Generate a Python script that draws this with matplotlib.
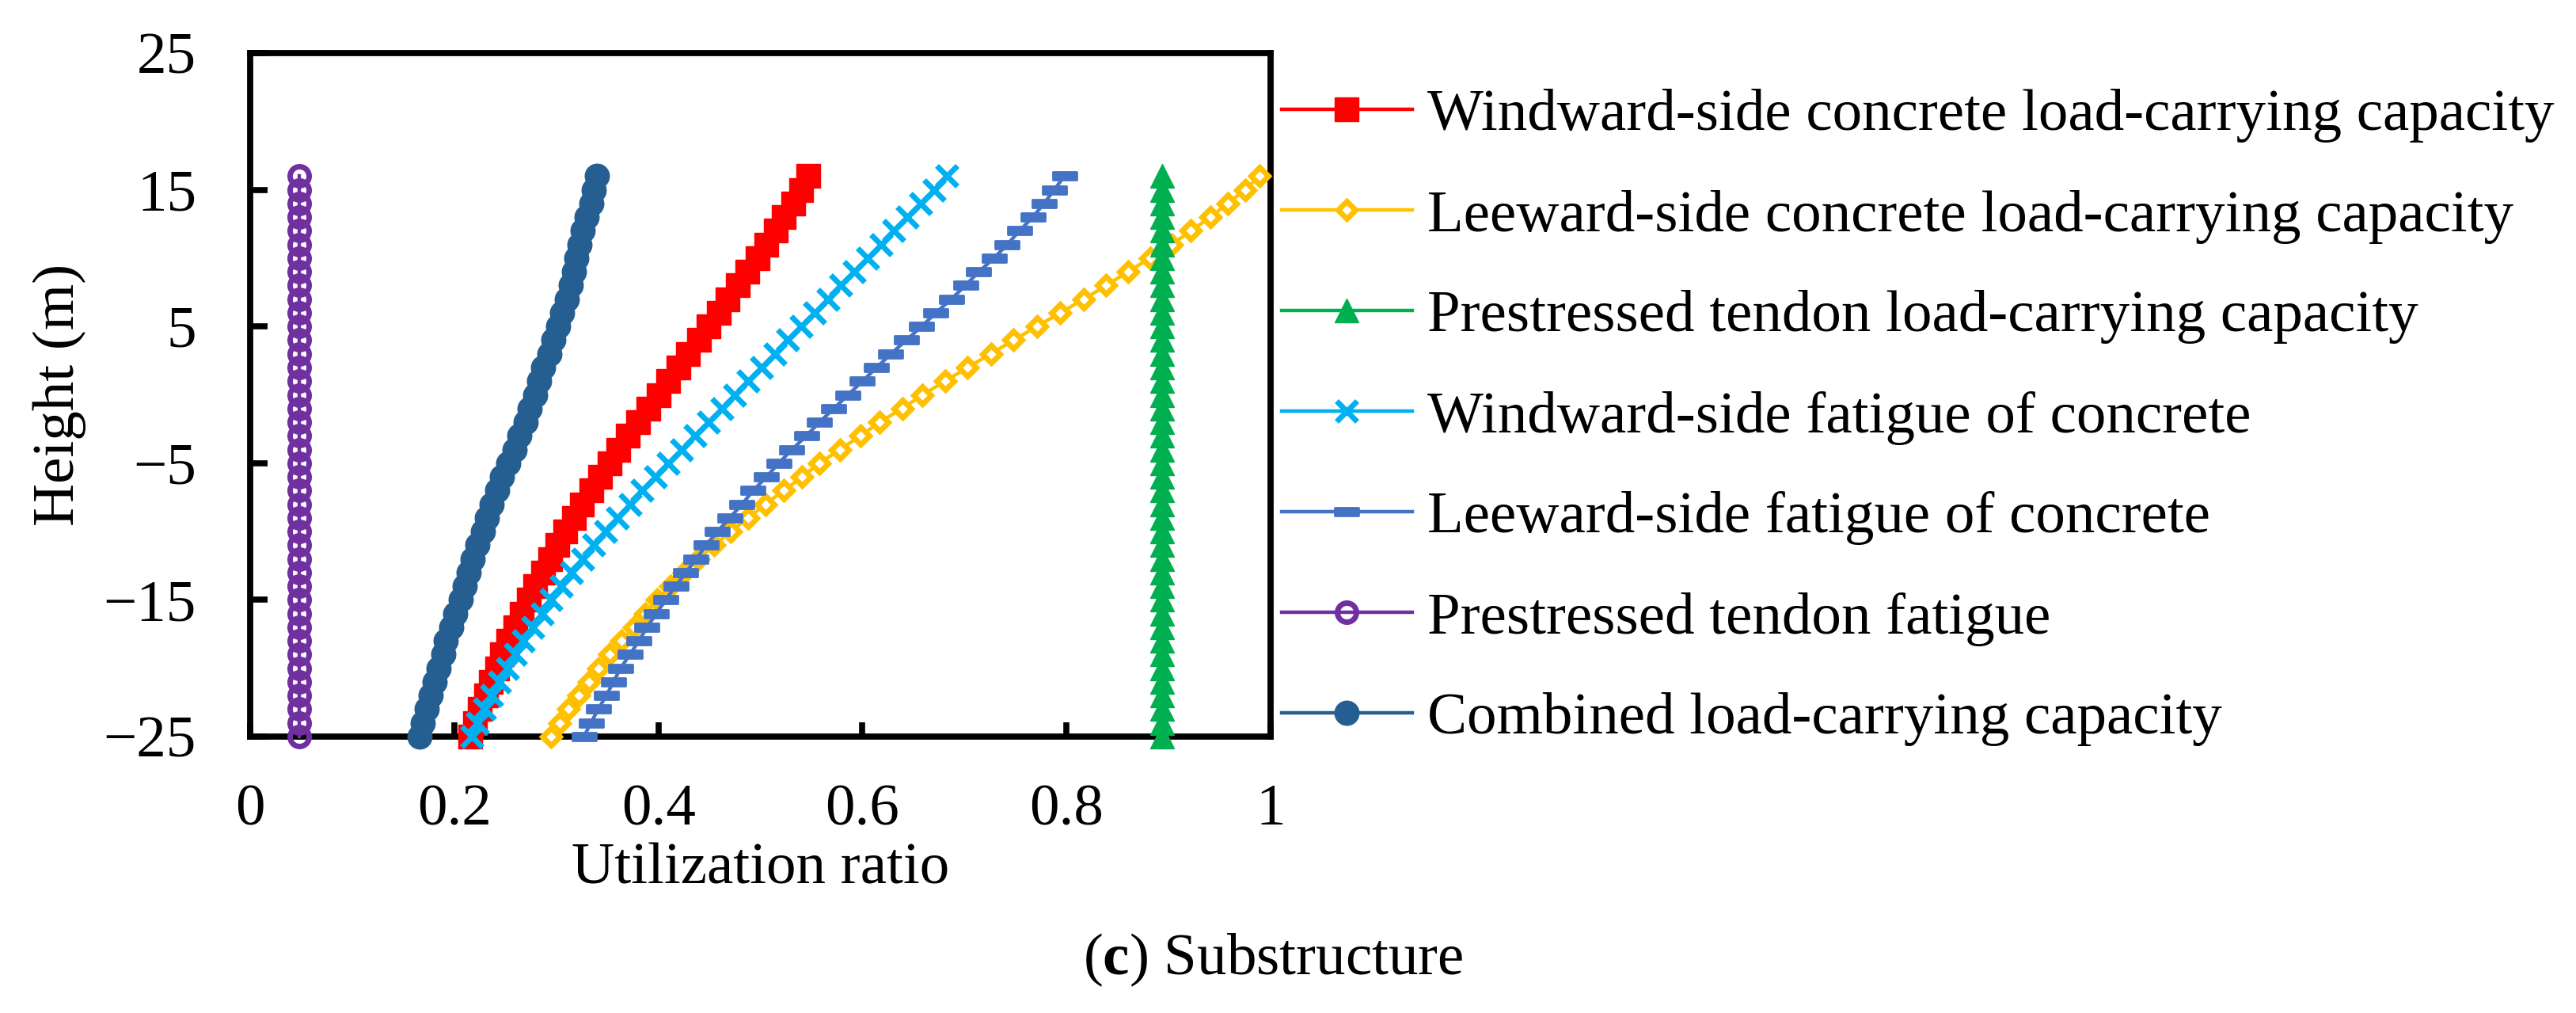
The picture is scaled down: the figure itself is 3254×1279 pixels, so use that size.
import matplotlib
matplotlib.use("Agg")
import matplotlib.pyplot as plt
from matplotlib.path import Path

plt.rcParams['font.family'] = ['Liberation Serif', 'DejaVu Serif']
plt.rcParams['mathtext.fontset'] = 'custom'
plt.rcParams['mathtext.rm'] = 'Liberation Serif'
plt.rcParams['mathtext.bf'] = 'Liberation Serif:bold'

# ---------------- data ----------------
heights = [-25, -24, -23, -22, -21, -20, -19, -18, -17, -16, -15, -14, -13, -12,
           -11, -10, -9, -8, -7, -6, -5, -4, -3, -2, -1, 0, 1, 2, 3, 4, 5, 6, 7,
           8, 9, 10, 11, 12, 13, 14, 15, 16]

windward_concrete = [0.216, 0.220, 0.225, 0.231, 0.236, 0.242, 0.247, 0.253, 0.260, 0.266,
                     0.273, 0.279, 0.287, 0.294, 0.301, 0.309, 0.317, 0.325, 0.334, 0.343,
                     0.352, 0.361, 0.370, 0.380, 0.390, 0.400, 0.410, 0.420, 0.429, 0.440,
                     0.449, 0.459, 0.468, 0.478, 0.487, 0.497, 0.506, 0.515, 0.523, 0.532,
                     0.540, 0.547]

leeward_concrete = [0.295, 0.303, 0.312, 0.322, 0.332, 0.341, 0.352, 0.364, 0.376, 0.387,
                    0.399, 0.412, 0.425, 0.439, 0.455, 0.471, 0.488, 0.505, 0.523, 0.541,
                    0.558, 0.578, 0.598, 0.617, 0.639, 0.659, 0.681, 0.703, 0.726, 0.748,
                    0.771, 0.794, 0.817, 0.839, 0.860, 0.882, 0.903, 0.922, 0.941, 0.958,
                    0.975, 0.989]

tendon_capacity = [0.894, 0.894, 0.894, 0.894, 0.894, 0.894, 0.894, 0.894, 0.894, 0.894,
                   0.894, 0.894, 0.894, 0.894, 0.894, 0.894, 0.894, 0.894, 0.894, 0.894,
                   0.894, 0.894, 0.894, 0.894, 0.894, 0.894, 0.894, 0.894, 0.894, 0.894,
                   0.894, 0.894, 0.894, 0.894, 0.894, 0.894, 0.894, 0.894, 0.894, 0.894,
                   0.894, 0.894]

windward_fatigue = [0.217, 0.223, 0.230, 0.237, 0.244, 0.252, 0.260, 0.268, 0.277, 0.286,
                    0.295, 0.305, 0.315, 0.326, 0.337, 0.348, 0.360, 0.372, 0.384, 0.397,
                    0.410, 0.423, 0.436, 0.449, 0.462, 0.475, 0.488, 0.501, 0.514, 0.527,
                    0.540, 0.553, 0.566, 0.579, 0.592, 0.605, 0.618, 0.631, 0.644, 0.657,
                    0.670, 0.683]

leeward_fatigue = [0.327, 0.334, 0.341, 0.349, 0.356, 0.363, 0.372, 0.381, 0.389, 0.398,
                   0.407, 0.417, 0.427, 0.437, 0.447, 0.458, 0.470, 0.482, 0.493, 0.506,
                   0.518, 0.531, 0.545, 0.558, 0.572, 0.586, 0.600, 0.614, 0.628, 0.643,
                   0.658, 0.672, 0.687, 0.701, 0.714, 0.729, 0.742, 0.754, 0.767, 0.778,
                   0.788, 0.798]

tendon_fatigue = [0.048, 0.048, 0.048, 0.048, 0.048, 0.048, 0.048, 0.048, 0.048, 0.048,
                  0.048, 0.048, 0.048, 0.048, 0.048, 0.048, 0.048, 0.048, 0.048, 0.048,
                  0.048, 0.048, 0.048, 0.048, 0.048, 0.048, 0.048, 0.048, 0.048, 0.048,
                  0.048, 0.048, 0.048, 0.048, 0.048, 0.048, 0.048, 0.048, 0.048, 0.048,
                  0.048, 0.048]

combined = [0.166, 0.169, 0.173, 0.177, 0.181, 0.185, 0.189, 0.192, 0.197, 0.201,
            0.206, 0.210, 0.214, 0.218, 0.223, 0.228, 0.232, 0.237, 0.242, 0.247,
            0.253, 0.259, 0.264, 0.270, 0.274, 0.279, 0.283, 0.287, 0.293, 0.297,
            0.302, 0.306, 0.310, 0.314, 0.317, 0.320, 0.323, 0.326, 0.330, 0.334,
            0.337, 0.340]

labels = ["Windward-side concrete load-carrying capacity",
          "Leeward-side concrete load-carrying capacity",
          "Prestressed tendon load-carrying capacity",
          "Windward-side fatigue of concrete",
          "Leeward-side fatigue of concrete",
          "Prestressed tendon fatigue",
          "Combined load-carrying capacity"]

x_ticks = [0, 0.2, 0.4, 0.6, 0.8, 1.0]
x_ticklabels = ["0", "0.2", "0.4", "0.6", "0.8", "1"]
y_ticks = [-25, -15, -5, 5, 15, 25]
y_ticklabels = ["\u221225", "\u221215", "\u22125", "5", "15", "25"]

# ---------------- figure ----------------
W, H = 3255, 1279
fig = plt.figure(figsize=(W / 100, H / 100), dpi=100)
ax = fig.add_axes([316 / W, 1 - 930 / H, (1605 - 316) / W, (930 - 67) / H])

dash = Path([(-1, -0.33), (1, -0.33), (1, 0.33), (-1, 0.33), (-1, -0.33)],
            [Path.MOVETO, Path.LINETO, Path.LINETO, Path.LINETO, Path.CLOSEPOLY])

lw = 3.2
series = [
    (windward_concrete, dict(color='#FF0000', marker='s', ms=22, mfc='#FF0000', mec='#FF0000', mew=1)),
    (leeward_concrete, dict(color='#FFC000', marker='D', ms=11, mfc='white', mec='#FFC000', mew=5)),
    (tendon_capacity, dict(color='#00B050', marker='^', ms=22, mfc='#00B050', mec='#00B050', mew=1)),
    (windward_fatigue, dict(color='#00B0F0', marker='x', ms=19, mec='#00B0F0', mew=5)),
    (leeward_fatigue, dict(color='#4472C4', marker=dash, ms=22, mfc='#4472C4', mec='#4472C4', mew=2)),
    (tendon_fatigue, dict(color='#7030A0', marker='o', ms=17.3, mfc='none', mec='#7030A0', mew=5)),
    (combined, dict(color='#255E91', marker='o', ms=22, mfc='#255E91', mec='#255E91', mew=1)),
]

handles = []
for (vals, kw), lab in zip(series, labels):
    ln, = ax.plot(vals, heights, lw=lw, clip_on=False, label=lab,
                  solid_joinstyle='round', zorder=3, **kw)
    handles.append(ln)

ax.set_xlim(0, 1)
ax.set_ylim(-25, 25)
ax.set_xticks(x_ticks)
ax.set_xticklabels(x_ticklabels)
ax.set_yticks(y_ticks)
ax.set_yticklabels(y_ticklabels)

fs = 54
ax.tick_params(axis='x', direction='in', length=13, width=5.5, labelsize=fs, pad=43,
               top=False)
ax.tick_params(axis='y', direction='in', length=16, width=5.5, labelsize=fs, pad=49,
               right=False)
for sp in ax.spines.values():
    sp.set_linewidth(5.6)
    sp.set_zorder(2.5)

fig.text(960.5 / W, 1 - 1115 / H, "Utilization ratio", fontsize=fs,
         ha='center', va='baseline')
fig.text(75 / W, 1 - 498 / H, "Height (m)", fontsize=fs, rotation=90,
         ha='center', va='center')
fig.text(0.494, 1 - 1230 / H, r"($\mathbf{c}$) Substructure", fontsize=fs,
         ha='center', va='baseline')

leg = ax.legend(handles=handles, loc='upper left',
                bbox_to_anchor=(1619 / W, 1 - 112 / H), bbox_transform=fig.transFigure,
                frameon=False, fontsize=fs, numpoints=1, handlelength=2.2,
                handletextpad=0.25, labelspacing=0.78, borderpad=0, borderaxespad=0)

fig.savefig("out.png", dpi=100, facecolor='white')
